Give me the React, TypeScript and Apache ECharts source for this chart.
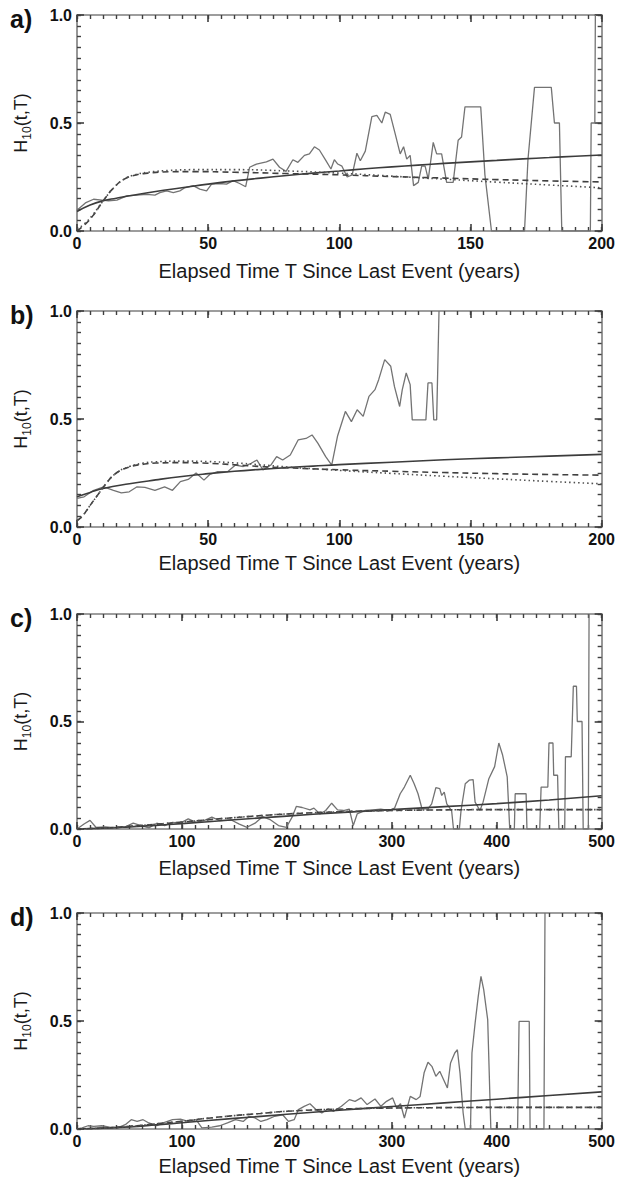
import React, { useEffect, useRef } from 'react';
import * as echarts from 'echarts';

// ---------- data ----------
const panelLabels = ['a)', 'b)', 'c)', 'd)'];
const xMaxes = [200, 200, 500, 500];
const xIntervals = [50, 50, 100, 100];
const xMinorIntervals = [5, 5, 12.5, 12.5];
const yMin = 0;
const yMax = 1;
const yInterval = 0.5;
const yMinorInterval = 0.05;
const xTitle = 'Elapsed Time T Since Last Event (years)';

const aObserved = [
  [0, 0.096], [3.2, 0.13], [6.3, 0.147], [9.5, 0.143], [12, 0.14], [15.2, 0.143], [19, 0.163], [22.8, 0.166],
  [26.6, 0.17], [29.7, 0.166], [31.6, 0.178], [34.2, 0.186], [36.7, 0.178], [39.2, 0.186], [41.1, 0.2], [44.3, 0.21],
  [46.8, 0.194], [49.4, 0.186], [51.3, 0.217], [54.4, 0.22], [57, 0.217], [59.5, 0.233], [62, 0.22], [64.3, 0.205],
  [65.8, 0.295], [68.4, 0.31], [72.2, 0.32], [74.7, 0.333], [77.2, 0.295], [79.7, 0.276], [82.3, 0.33], [84.2, 0.318],
  [86.7, 0.35], [88.6, 0.357], [90.5, 0.39], [92.4, 0.375], [94.9, 0.326], [96.8, 0.287], [98.1, 0.33], [99.4, 0.31],
  [101, 0.3], [103, 0.25], [104.9, 0.26], [106.7, 0.36], [108, 0.325], [109.9, 0.37], [112.4, 0.53], [114.3, 0.535],
  [116.2, 0.5], [117.5, 0.55], [119.4, 0.54], [121.3, 0.45], [123.2, 0.357], [124.5, 0.39], [125.7, 0.333], [127, 0.35],
  [128.3, 0.21], [130.1, 0.225], [131.4, 0.3], [132.7, 0.3], [133.9, 0.24], [135.8, 0.41], [137.1, 0.357], [139, 0.357],
  [140.9, 0.225], [143.4, 0.225], [145.3, 0.42], [146.6, 0.435], [147.9, 0.575], [153.9, 0.575], [155.5, 0.26], [158, 0],
  [170.6, 0], [171.9, 0.33], [174.4, 0.665], [180.8, 0.665], [182, 0.5], [183.9, 0.5], [184.8, 0], [195.7, 0],
  [196, 0.5], [197.4, 0.5], [197.6, 1.0],
];
const aFitSolid = [
  [0, 0.09], [5, 0.12], [10, 0.14], [15, 0.152], [20, 0.163], [30, 0.183], [40, 0.2], [50, 0.217], [60, 0.232],
  [70, 0.245], [80, 0.257], [90, 0.268], [100, 0.278], [110, 0.288], [120, 0.297], [130, 0.305], [140, 0.313],
  [150, 0.32], [160, 0.327], [170, 0.334], [180, 0.34], [190, 0.346], [200, 0.352],
];
const aFitDashed = [
  [0, 0], [3, 0.03], [6, 0.07], [10, 0.14], [14, 0.2], [18, 0.24], [22, 0.258], [27, 0.268], [35, 0.274], [45, 0.275],
  [60, 0.272], [80, 0.266], [100, 0.26], [120, 0.252], [140, 0.245], [160, 0.238], [180, 0.232], [200, 0.227],
];
const aFitDotted = [
  [0, 0.01], [3, 0.035], [6, 0.075], [10, 0.14], [14, 0.2], [18, 0.24], [22, 0.26], [27, 0.272], [35, 0.28], [45, 0.284],
  [60, 0.284], [80, 0.278], [100, 0.268], [120, 0.254], [140, 0.24], [160, 0.226], [180, 0.213], [200, 0.2],
];

const bObserved = [
  [0, 0.132], [2.7, 0.14], [6.4, 0.17], [10.2, 0.186], [13.9, 0.17], [16.9, 0.158], [19.9, 0.163], [22.9, 0.186],
  [25.9, 0.183], [29.7, 0.17], [33.4, 0.186], [36.4, 0.17], [39.4, 0.21], [42.4, 0.22], [45.4, 0.25], [48.4, 0.217],
  [50.6, 0.243], [53.6, 0.256], [57.4, 0.256], [60.4, 0.287], [63.4, 0.28], [66.4, 0.295], [68.6, 0.31], [70.9, 0.264],
  [73.9, 0.287], [76.1, 0.326], [78.4, 0.31], [81.3, 0.333], [84.3, 0.403], [87.3, 0.41], [89.6, 0.426], [91.8, 0.388],
  [94.8, 0.326], [97.1, 0.287], [99.3, 0.42], [102.3, 0.535], [104.6, 0.488], [106.8, 0.543], [109.1, 0.512],
  [111.3, 0.605], [113.6, 0.636], [115, 0.682], [117.3, 0.775], [119.6, 0.744], [121, 0.651], [123, 0.558],
  [124, 0.636], [125.5, 0.713], [127, 0.659], [127.8, 0.496], [133, 0.496], [133.8, 0.667], [135.3, 0.667],
  [136, 0.496], [137.1, 0.496], [138, 1.0],
];
const bFitSolid = [
  [0, 0.14], [5, 0.16], [10, 0.178], [20, 0.2], [30, 0.218], [40, 0.234], [50, 0.247], [60, 0.258], [70, 0.267],
  [80, 0.275], [90, 0.282], [100, 0.289], [120, 0.3], [140, 0.311], [160, 0.32], [180, 0.328], [200, 0.336],
];
const bFitDashed = [
  [0, 0.03], [2, 0.05], [5, 0.1], [8, 0.15], [11, 0.2], [15, 0.25], [20, 0.278], [25, 0.29], [30, 0.296], [40, 0.298],
  [50, 0.295], [60, 0.288], [70, 0.28], [80, 0.274], [100, 0.265], [120, 0.258], [140, 0.252], [160, 0.247],
  [180, 0.243], [200, 0.24],
];
const bFitDotted = [
  [0, 0.03], [2, 0.05], [5, 0.1], [8, 0.15], [11, 0.2], [15, 0.25], [20, 0.28], [25, 0.295], [30, 0.302], [40, 0.305],
  [50, 0.303], [60, 0.297], [70, 0.288], [80, 0.278], [100, 0.262], [120, 0.248], [140, 0.235], [160, 0.223],
  [180, 0.211], [200, 0.2],
];

const cObserved = [
  [0, 0], [6.7, 0.023], [12.4, 0.04], [18, 0.008], [27, 0.01], [38.6, 0.005], [46, 0.01], [53.6, 0.027], [61, 0.016],
  [68.5, 0.005], [76, 0.027], [83.5, 0.016], [91, 0.031], [98.5, 0.027], [106, 0.047], [113.5, 0.031], [121, 0.039],
  [128.5, 0.055], [136, 0.039], [147, 0.042], [154.7, 0.023], [162, 0.008], [169.7, 0.027], [177, 0.058],
  [184.6, 0.042], [192, 0.016], [199.6, 0.008], [205, 0.055], [209, 0.105], [214.6, 0.1], [222, 0.089],
  [225.8, 0.097], [231.5, 0.07], [237, 0.086], [242.7, 0.12], [248.3, 0.089], [254, 0.086], [259.5, 0.092],
  [263.3, 0.016], [267, 0.07], [274.5, 0.086], [282, 0.089], [289.5, 0.092], [297, 0.086], [302.6, 0.097],
  [308, 0.164], [312, 0.195], [317.6, 0.25], [321.3, 0.21], [325, 0.164], [328.8, 0.094], [334.5, 0.094],
  [338, 0.117], [342, 0.192], [345.7, 0.188], [347.6, 0.156], [350, 0.172], [352.4, 0.117], [357, 0.086],
  [358.8, 0], [364.4, 0], [366, 0.086], [370, 0.21], [373.8, 0.227], [377.5, 0.23], [379.4, 0.125], [384, 0.086],
  [387, 0.125], [392.5, 0.234], [398, 0.29], [402, 0.4], [405.6, 0.344], [410, 0.242], [412.4, 0], [416.8, 0],
  [417.6, 0.164], [428, 0.164], [428.8, 0], [441, 0], [442.3, 0.195], [448.7, 0.195], [449.8, 0.4], [453.6, 0.4],
  [454.3, 0.25], [458, 0.25], [459.2, 0], [464.8, 0], [465.5, 0.336], [471, 0.336], [473, 0.664], [476, 0.664],
  [476.8, 0.5], [481.3, 0.5], [482.4, 0], [487.3, 0], [488, 1.0],
];
const cFitSolid = [
  [0, 0], [25, 0.004], [50, 0.01], [75, 0.017], [100, 0.025], [150, 0.043], [200, 0.06], [250, 0.076], [300, 0.09],
  [350, 0.104], [400, 0.118], [450, 0.135], [500, 0.155],
];
const cFitDashed = [
  [0, 0], [25, 0.004], [50, 0.012], [75, 0.022], [100, 0.032], [125, 0.043], [150, 0.053], [175, 0.062], [200, 0.07],
  [250, 0.08], [300, 0.086], [350, 0.089], [400, 0.09], [450, 0.09], [500, 0.09],
];
const cFitDotted = [
  [0, 0], [25, 0.004], [50, 0.012], [75, 0.022], [100, 0.032], [125, 0.043], [150, 0.053], [175, 0.062], [200, 0.07],
  [250, 0.08], [300, 0.086], [350, 0.089], [400, 0.09], [450, 0.09], [500, 0.09],
];

const dObserved = [
  [0, 0], [4.9, 0.005], [10.5, 0.015], [16, 0.012], [23.6, 0.015], [31, 0.009], [38.6, 0.005], [46, 0.02],
  [51.7, 0.043], [57.3, 0.035], [63, 0.043], [68.5, 0.028], [76, 0.015], [83.5, 0.031], [91, 0.043], [98.5, 0.046],
  [106, 0.035], [113.5, 0.043], [119, 0.005], [128.5, 0.009], [136, 0.015], [143.4, 0.028], [151, 0.043],
  [158.4, 0.035], [164, 0.059], [169.7, 0.051], [175.3, 0.035], [181, 0.043], [188.4, 0.059], [196, 0.066],
  [201.5, 0.035], [207, 0.043], [211, 0.09], [216.5, 0.105], [222, 0.117], [227.7, 0.09], [233.3, 0.074],
  [239, 0.093], [244.6, 0.082], [252, 0.105], [259.6, 0.136], [265, 0.128], [270.8, 0.144], [276.5, 0.113],
  [284, 0.139], [289.6, 0.105], [295, 0.128], [300.8, 0.144], [304.6, 0.097], [308.3, 0.117], [312, 0.051],
  [317.6, 0.151], [323.3, 0.136], [327, 0.151], [330.8, 0.26], [334.5, 0.309], [338.2, 0.29], [342, 0.244],
  [345.7, 0.267], [349.4, 0.228], [353, 0.19], [356, 0.306], [360, 0.352], [362.5, 0.367], [365, 0.26], [368, 0.074],
  [370, 0], [375, 0], [376.4, 0.352], [379.4, 0.49], [382.4, 0.614], [385, 0.707], [387.6, 0.645], [391.4, 0.506],
  [394.4, 0], [419.9, 0], [421.3, 0.498], [431, 0.498], [431.8, 0], [445, 0], [446, 1.0],
];
const dFitSolid = [
  [0, 0], [25, 0.004], [50, 0.01], [75, 0.019], [100, 0.029], [150, 0.049], [200, 0.068], [250, 0.087], [300, 0.104],
  [350, 0.121], [400, 0.138], [450, 0.155], [500, 0.172],
];
const dFitDashed = [
  [0, 0], [25, 0.004], [50, 0.012], [75, 0.024], [100, 0.036], [125, 0.05], [150, 0.062], [175, 0.072], [200, 0.082],
  [250, 0.092], [300, 0.097], [350, 0.099], [400, 0.1], [450, 0.1], [500, 0.1],
];
const dFitDotted = [
  [0, 0], [25, 0.004], [50, 0.012], [75, 0.024], [100, 0.036], [125, 0.05], [150, 0.062], [175, 0.072], [200, 0.082],
  [250, 0.092], [300, 0.097], [350, 0.099], [400, 0.1], [450, 0.1], [500, 0.1],
];

const observedSets = [aObserved, bObserved, cObserved, dObserved];
const solidSets = [aFitSolid, bFitSolid, cFitSolid, dFitSolid];
const dashedSets = [aFitDashed, bFitDashed, cFitDashed, dFitDashed];
const dottedSets = [aFitDotted, bFitDotted, cFitDotted, dFitDotted];

// ---------- layout / style ----------
const FONT = 'Liberation Sans, Arial, Helvetica, sans-serif';
const gridTops = [15, 311, 614, 913];
const gridHeights = [216, 216, 215, 216];
const gridLeft = 77;
const gridWidth = 527;
const xNameGaps = [30, 26, 29, 27];
const axisColor = '#7d7d7d';
const tickColor = '#3f3f3f';

const mkLine = () => ({ show: true, onZero: false, lineStyle: { color: axisColor, width: 1.6 } });
const noLine = () => ({ show: false, onZero: false });
const mkTick = (len: number, w: number) => ({ show: true, inside: true, length: len, lineStyle: { color: tickColor, width: w } });
const off = () => ({ show: false });

export default function App() {
  const ref = useRef<HTMLDivElement>(null);

  useEffect(() => {
    document.body.style.margin = '0';
    if (!ref.current) return;
    const chart = echarts.init(ref.current, undefined, { renderer: 'svg' });

    const grid: any[] = [];
    const xAxis: any[] = [];
    const yAxis: any[] = [];
    const series: any[] = [];
    const graphic: any[] = [];

    for (let i = 0; i < 4; i++) {
      grid.push({ left: gridLeft, top: gridTops[i], width: gridWidth, height: gridHeights[i] });
      const xBase = { type: 'value', gridIndex: i, min: 0, max: xMaxes[i], splitLine: off(), minorTick: off(), minorSplitLine: off() };
      const yBase = { type: 'value', gridIndex: i, min: yMin, max: yMax, splitLine: off(), minorTick: off(), minorSplitLine: off() };

      xAxis.push({
        ...xBase, position: 'bottom', interval: xIntervals[i], axisLine: mkLine(), axisTick: mkTick(7, 1.6),
        axisLabel: { fontFamily: FONT, fontWeight: 'bold', fontSize: 16, color: '#111', margin: 4 },
        name: xTitle, nameLocation: 'middle', nameGap: xNameGaps[i],
        nameTextStyle: { fontFamily: FONT, fontSize: 20, color: '#1a1a1a' },
      });
      xAxis.push({ ...xBase, position: 'top', interval: xIntervals[i], axisLine: mkLine(), axisTick: mkTick(7, 1.6), axisLabel: off() });
      xAxis.push({ ...xBase, position: 'bottom', interval: xMinorIntervals[i], axisLine: noLine(), axisTick: mkTick(4, 1.4), axisLabel: off() });
      xAxis.push({ ...xBase, position: 'top', interval: xMinorIntervals[i], axisLine: noLine(), axisTick: mkTick(4, 1.4), axisLabel: off() });

      yAxis.push({
        ...yBase, position: 'left', interval: yInterval, axisLine: mkLine(), axisTick: mkTick(7, 1.6),
        axisLabel: {
          fontFamily: FONT, fontWeight: 'bold', fontSize: 16, color: '#111', margin: 5,
          formatter: (v: number) => v.toFixed(1),
        },
        name: '{h|H}{s|10}{h|(t,T)}', nameLocation: 'middle', nameRotate: 90, nameGap: 44,
        nameTextStyle: {
          fontFamily: FONT, color: '#1a1a1a',
          rich: {
            h: { fontFamily: FONT, fontSize: 18, lineHeight: 24, color: '#1a1a1a' },
            s: { fontFamily: FONT, fontSize: 12, lineHeight: 12, verticalAlign: 'bottom', color: '#1a1a1a' },
          },
        },
      });
      yAxis.push({ ...yBase, position: 'right', interval: yInterval, axisLine: mkLine(), axisTick: mkTick(7, 1.6), axisLabel: off() });
      yAxis.push({ ...yBase, position: 'left', interval: yMinorInterval, axisLine: noLine(), axisTick: mkTick(4, 1.4), axisLabel: off() });
      yAxis.push({ ...yBase, position: 'right', interval: yMinorInterval, axisLine: noLine(), axisTick: mkTick(4, 1.4), axisLabel: off() });

      const xi = 4 * i;
      const yi = 4 * i;
      series.push({
        type: 'line', xAxisIndex: xi, yAxisIndex: yi, data: observedSets[i], showSymbol: false, symbol: 'none',
        lineStyle: { color: '#737373', width: 1.3 }, z: 2,
      });
      series.push({
        type: 'line', xAxisIndex: xi, yAxisIndex: yi, data: solidSets[i], smooth: true, showSymbol: false, symbol: 'none',
        lineStyle: { color: '#3c3c3c', width: 1.6 }, z: 3,
      });
      series.push({
        type: 'line', xAxisIndex: xi, yAxisIndex: yi, data: dashedSets[i], smooth: true, showSymbol: false, symbol: 'none',
        lineStyle: { color: '#404040', width: 1.6, type: [6, 4] }, z: 3,
      });
      series.push({
        type: 'line', xAxisIndex: xi, yAxisIndex: yi, data: dottedSets[i], smooth: true, showSymbol: false, symbol: 'none',
        lineStyle: { color: '#505050', width: 1.6, type: [1.5, 3] }, z: 3,
      });

      graphic.push({
        type: 'text', left: 10, top: gridTops[i] - 9,
        style: { text: panelLabels[i], font: `bold 25px ${FONT}`, fill: '#111' },
      });
    }

    chart.setOption({
      animation: false,
      backgroundColor: '#ffffff',
      grid, xAxis, yAxis, series, graphic,
    });

    return () => chart.dispose();
  }, []);

  return <div ref={ref} style={{ width: 618, height: 1180 }} />;
}
